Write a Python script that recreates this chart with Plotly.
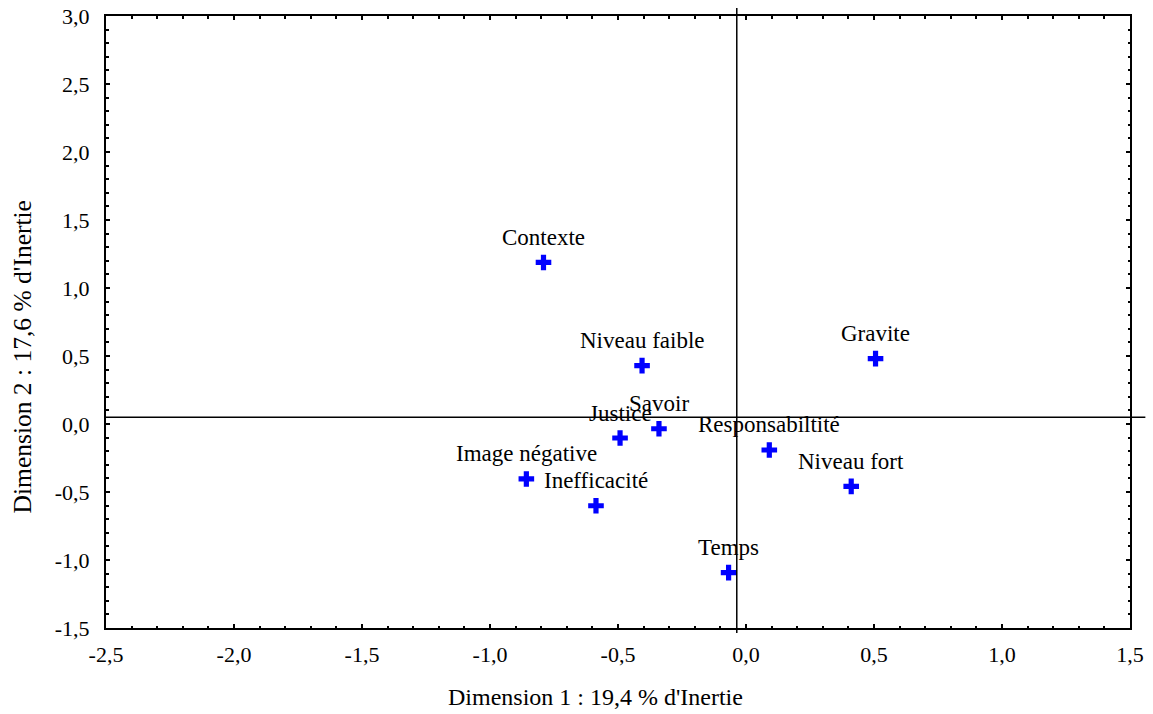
import plotly.graph_objects as go

labels = ["Contexte", "Niveau faible", "Gravite", "Savoir", "Justice",
          "Responsabiltité", "Image négative", "Inefficacité", "Niveau fort", "Temps"]
dim1 = [-0.791, -0.406, 0.506, -0.340, -0.492, 0.091, -0.858, -0.586, 0.411, -0.068]
dim2 = [1.188, 0.429, 0.481, -0.035, -0.103, -0.191, -0.404, -0.601, -0.459, -1.093]

ref_x = -0.036
ref_y = 0.049

x_ticks = [-2.5, -2.0, -1.5, -1.0, -0.5, 0.0, 0.5, 1.0, 1.5]
x_tick_labels = ["-2,5", "-2,0", "-1,5", "-1,0", "-0,5", "0,0", "0,5", "1,0", "1,5"]
y_ticks = [-1.5, -1.0, -0.5, 0.0, 0.5, 1.0, 1.5, 2.0, 2.5, 3.0]
y_tick_labels = ["-1,5", "-1,0", "-0,5", "0,0", "0,5", "1,0", "1,5", "2,0", "2,5", "3,0"]

x_title = "Dimension 1 : 19,4 % d'Inertie"
y_title = "Dimension 2 : 17,6 % d'Inertie"

FONT = "Liberation Serif"

fig = go.Figure()
fig.add_trace(go.Scatter(
    x=dim1, y=dim2, mode="markers",
    marker=dict(symbol="cross", size=13, color="#0000FF", line=dict(width=0)),
    hovertext=labels, showlegend=False,
))

for lab, xv, yv in zip(labels, dim1, dim2):
    fig.add_annotation(x=xv, y=yv, text=lab, showarrow=False,
                       xanchor="center", yanchor="middle", yshift=25,
                       font=dict(family=FONT, size=23, color="black"))

# axis titles (placed off-centre as in the original)
fig.add_annotation(xref="paper", yref="paper", x=0.4785, y=-0.1127, text=x_title,
                   showarrow=False, xanchor="center", yanchor="middle",
                   font=dict(family=FONT, size=24, color="black"))
fig.add_annotation(xref="paper", yref="paper", x=-0.0815, y=0.443, text=y_title,
                   showarrow=False, xanchor="center", yanchor="middle", textangle=-90,
                   font=dict(family=FONT, size=25.5, color="black"))

fig.add_shape(type="line", xref="paper", yref="y", x0=0, x1=1.015, y0=ref_y, y1=ref_y,
              line=dict(color="black", width=1.5), layer="above")
fig.add_shape(type="line", xref="x", yref="paper", x0=ref_x, x1=ref_x, y0=-0.008, y1=1.013,
              line=dict(color="black", width=1.5), layer="above")

axis_common = dict(
    showgrid=False, zeroline=False, showline=True, linecolor="black", linewidth=2,
    mirror="ticks", ticks="inside", ticklen=4, tickwidth=1.5, tickcolor="black",
    tickfont=dict(family=FONT, size=22, color="black"), automargin=False,
    minor=dict(ticks="inside", ticklen=2.5, tickwidth=1.5, tickcolor="black", dtick=0.1),
)

fig.update_xaxes(range=[-2.5, 1.5], tickmode="array", tickvals=x_ticks, ticktext=x_tick_labels,
                 ticklabelstandoff=6, **axis_common)
fig.update_yaxes(range=[-1.5, 3.0], tickmode="array", tickvals=y_ticks, ticktext=y_tick_labels,
                 ticklabelstandoff=10, **axis_common)

fig.update_layout(
    width=1153, height=714,
    margin=dict(l=106, r=23, t=16, b=86),
    paper_bgcolor="white", plot_bgcolor="white",
    font=dict(family=FONT, color="black"),
)

fig.write_html("out.html", config={"displayModeBar": False},
               post_script="document.body.style.margin='0';document.body.style.overflow='hidden';")
